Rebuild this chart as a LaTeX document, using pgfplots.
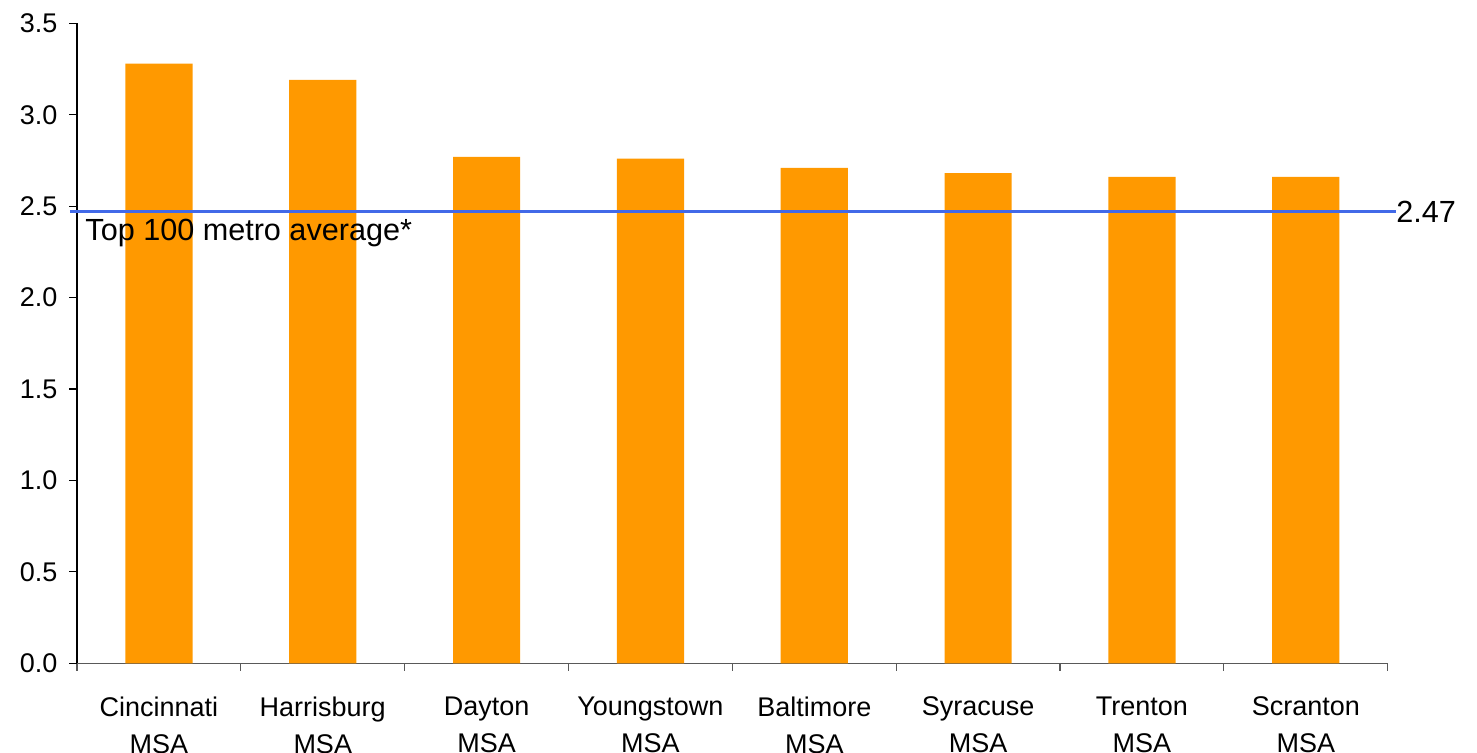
\documentclass[border=0pt]{standalone}
\usepackage{pgfplots}
\pgfplotsset{compat=1.18}
\usepackage{fontspec}
\setmainfont{Liberation Sans}

\definecolor{barorange}{HTML}{FF9900}
\definecolor{avgblue}{HTML}{4169E8}

\begin{document}
\begin{tikzpicture}
\begin{axis}[
  at={(0,0)}, anchor=south west,
  scale only axis,
  width=655.35pt, height=320pt,
  xmin=-0.5, xmax=7.5,
  ymin=0, ymax=3.5,
  clip=false,
  axis x line*=bottom,
  axis y line*=left,
  x axis line style={black!65, line width=0.6pt},
  y axis line style={black, line width=0.6pt},
  ytick={0,0.5,...,3.5},
  yticklabel style={font=\fontsize{13.5}{16}\selectfont, xshift=-2.5pt,
    /pgf/number format/.cd, fixed, fixed zerofill, precision=1, assume math mode=true},
  xtick={-0.5,0.5,...,7.5},
  x tick label as interval,
  xticklabels={Cincinnati\\MSA, Harrisburg\\MSA, Dayton\\MSA, Youngstown\\MSA,
               Baltimore\\MSA, Syracuse\\MSA, Trenton\\MSA, Scranton\\MSA},
  xticklabel style={font=\fontsize{13.5}{18.5}\selectfont, align=center, anchor=north, yshift=-9.5pt},
  tick align=outside,
  major tick length=3.8pt,
  x tick style={black!65, line width=0.6pt},
  y tick style={black, line width=0.6pt},
]
% bars: index per metro
\addplot[ybar, bar width=0.41, fill=barorange, draw=none] coordinates {
  (0,3.28) (1,3.19) (2,2.77) (3,2.76) (4,2.71) (5,2.68) (6,2.66) (7,2.66)
};
% top 100 metro average reference line
\addplot[avgblue, line width=1.5pt, no marks] coordinates {(-0.543,2.47) (7.55,2.47)};
\node[anchor=west, inner sep=0pt, font=\fontsize{15.3}{18}\selectfont]
  at (axis cs:7.55,2.47) {2.47};
\node[anchor=north west, inner sep=0pt, font=\fontsize{15.3}{18}\selectfont]
  at (axis cs:-0.451,2.47) [yshift=-3.5pt] {Top 100 metro average*};
\end{axis}
\pgfresetboundingbox
\useasboundingbox (-38.5pt,-44.85pt) rectangle (700pt,331.65pt);
\end{tikzpicture}
\end{document}
